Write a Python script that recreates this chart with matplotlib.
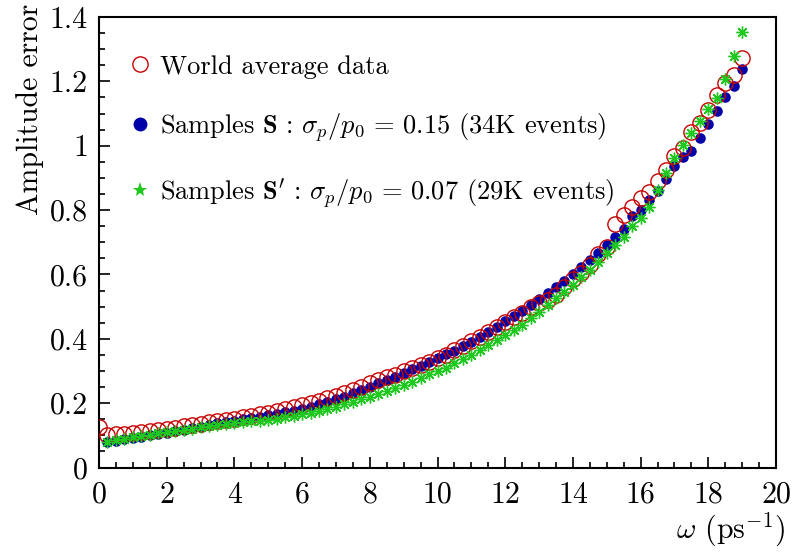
import numpy as np
import matplotlib
matplotlib.use('Agg')
import matplotlib.pyplot as plt
from matplotlib.lines import Line2D
from matplotlib.ticker import MultipleLocator, FuncFormatter

plt.rcParams['font.family'] = ['cmr10', 'DejaVu Serif']
plt.rcParams['mathtext.fontset'] = 'cm'
plt.rcParams['axes.unicode_minus'] = False
plt.rcParams['axes.formatter.use_mathtext'] = True

# ---- data ----
omega_world = np.arange(0.0, 19.001, 0.25)
world_avg = [0.125, 0.100, 0.103, 0.104, 0.106, 0.109, 0.112, 0.116, 0.120, 0.124,
             0.128, 0.132, 0.136, 0.140, 0.144, 0.148, 0.152, 0.156, 0.160, 0.165,
             0.170, 0.176, 0.181, 0.187, 0.194, 0.201, 0.208, 0.215, 0.222, 0.231,
             0.241, 0.251, 0.262, 0.272, 0.280, 0.289, 0.299, 0.308, 0.319, 0.329,
             0.340, 0.351, 0.364, 0.378, 0.392, 0.407, 0.422, 0.437, 0.453, 0.467,
             0.480, 0.498, 0.510, 0.522, 0.536, 0.562, 0.586, 0.605, 0.629, 0.664,
             0.686, 0.756, 0.785, 0.810, 0.837, 0.856, 0.890, 0.924, 0.968, 0.993,
             1.043, 1.071, 1.111, 1.159, 1.195, 1.220, 1.272]

omega_samples = np.arange(0.25, 19.001, 0.25)
samples_S = [0.078, 0.083, 0.088, 0.092, 0.096, 0.100, 0.104, 0.108, 0.112,
             0.117, 0.122, 0.127, 0.132, 0.137, 0.142, 0.146, 0.150, 0.154, 0.158,
             0.162, 0.167, 0.172, 0.177, 0.183, 0.189, 0.197, 0.204, 0.212, 0.220,
             0.231, 0.241, 0.251, 0.262, 0.273, 0.282, 0.295, 0.305, 0.315, 0.327,
             0.339, 0.352, 0.363, 0.378, 0.391, 0.406, 0.422, 0.437, 0.456, 0.471,
             0.487, 0.505, 0.524, 0.541, 0.560, 0.580, 0.601, 0.622, 0.645, 0.666,
             0.690, 0.717, 0.742, 0.782, 0.801, 0.832, 0.860, 0.897, 0.937, 0.965,
             0.984, 1.023, 1.067, 1.107, 1.151, 1.186, 1.238]
samples_Sp = [0.080, 0.085, 0.090, 0.094, 0.098, 0.102, 0.106, 0.110, 0.114,
              0.118, 0.121, 0.125, 0.128, 0.131, 0.134, 0.137, 0.140, 0.143, 0.146,
              0.149, 0.152, 0.157, 0.161, 0.166, 0.170, 0.176, 0.182, 0.189, 0.196,
              0.204, 0.212, 0.220, 0.228, 0.238, 0.246, 0.256, 0.267, 0.279, 0.290,
              0.301, 0.310, 0.324, 0.336, 0.350, 0.365, 0.381, 0.396, 0.412, 0.427,
              0.443, 0.464, 0.484, 0.505, 0.526, 0.546, 0.567, 0.591, 0.614, 0.640,
              0.666, 0.690, 0.716, 0.750, 0.775, 0.810, 0.862, 0.915, 0.962, 1.002,
              1.039, 1.077, 1.114, 1.148, 1.207, 1.279, 1.353]

labels = ["World average data",
          r"Samples $\mathbf{S}\,:\,\sigma_p/p_0\,=\,0.15$ (34K events)",
          r"Samples $\mathbf{S}'\,:\,\sigma_p/p_0\,=\,0.07$ (29K events)"]

RED = '#c80000'
BLUE = '#0000a8'
GREEN = '#1ec81e'

fig = plt.figure(figsize=(7.95, 5.54), dpi=100)
ax = fig.add_axes([99/795, 1 - 467.5/554, 677/795, 450.5/554])

ax.plot(omega_samples, samples_S, ls='none', marker='o', ms=7.6,
        mfc=BLUE, mec=BLUE, mew=0, zorder=3)
ax.plot(omega_world, world_avg, ls='none', marker='o', ms=11,
        mfc='none', mec=RED, mew=1.0, zorder=4)
ax.plot(omega_samples, samples_Sp, ls='none', marker=(8, 2, 0), ms=8.5,
        mec=GREEN, mew=1.0, zorder=5)

ax.set_xlim(0, 20)
ax.set_ylim(0, 1.4)
ax.xaxis.set_major_locator(MultipleLocator(2))
ax.xaxis.set_minor_locator(MultipleLocator(0.5))
ax.yaxis.set_major_locator(MultipleLocator(0.2))
ax.yaxis.set_minor_locator(MultipleLocator(0.05))
fmt = FuncFormatter(lambda v, _: f"{v:g}")
ax.xaxis.set_major_formatter(fmt)
ax.yaxis.set_major_formatter(fmt)

ax.tick_params(which='both', direction='in', top=False, right=False,
               labelsize=21.5, width=1.2, colors='black')
ax.tick_params(axis='x', which='major', length=8, pad=10)
ax.tick_params(axis='x', which='minor', length=4)
ax.tick_params(axis='y', which='major', length=8, pad=8)
ax.tick_params(axis='y', which='minor', length=4)
for s in ax.spines.values():
    s.set_linewidth(1.5)

fig.text(785/795, 1 - 530/554, r"$\omega$ (ps$^{-1}$)", fontsize=21.5,
         ha='right', va='center')
fig.text(30/795, 1 - 4/554, "Amplitude error", fontsize=21.5, rotation=90,
         ha='center', va='top')

handles = [Line2D([], [], ls='none', marker='o', ms=11, mfc='none', mec=RED, mew=1.0),
           Line2D([], [], ls='none', marker='o', ms=10, mfc=BLUE, mec=BLUE, mew=0),
           Line2D([], [], ls='none', marker='*', ms=11, mfc=GREEN, mec=GREEN, mew=0)]
leg = ax.legend(handles, labels, loc='upper left', frameon=False,
                bbox_to_anchor=(132/795, 1 - 55/554), bbox_transform=fig.transFigure,
                fontsize=19, handlelength=0.6, handletextpad=0.45,
                labelspacing=1.22, borderpad=0, borderaxespad=0)

fig.savefig('out.png', dpi=100)
